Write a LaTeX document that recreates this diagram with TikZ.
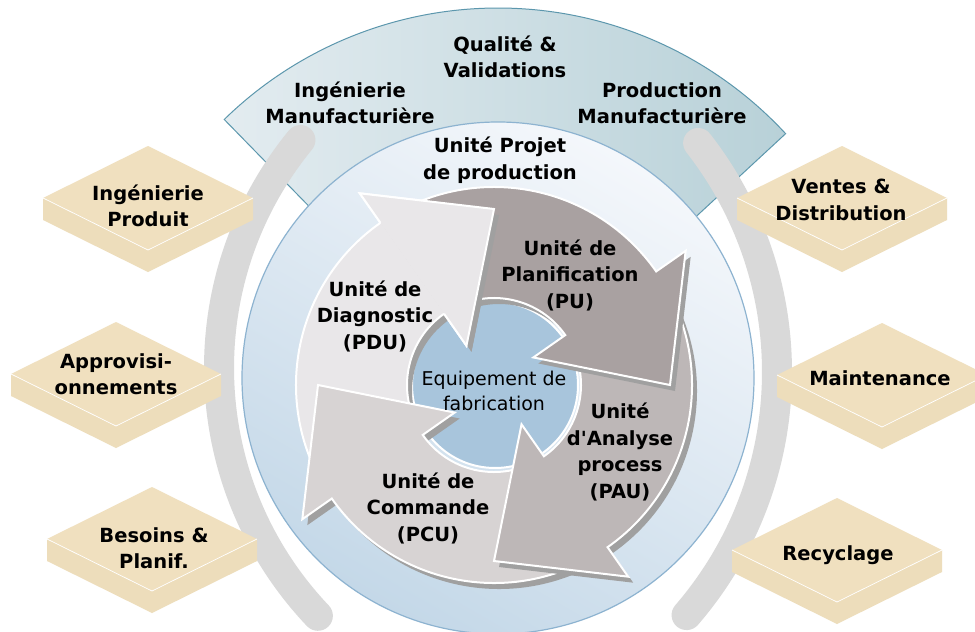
\documentclass[tikz,border=0pt]{standalone}
\usepackage{fontspec}
\setmainfont{DejaVu Sans}[Ligatures=TeXOff]
\usetikzlibrary{calc}
\definecolor{fanL}{HTML}{E3ECF0}
\definecolor{fanR}{HTML}{B8D1D8}
\definecolor{fanEdge}{HTML}{5C97AD}
\definecolor{ringgray}{HTML}{D9D9D9}
\definecolor{bigTop}{HTML}{F4F7FB}
\definecolor{bigBot}{HTML}{C4D8E8}
\definecolor{bigEdge}{HTML}{8DB3D0}
\definecolor{beige}{HTML}{F0E0BF}
\definecolor{beigeSide}{HTML}{EDDDBB}
\definecolor{coreblue}{HTML}{A8C5DC}
\definecolor{shadowgray}{HTML}{A0A0A0}
\definecolor{cPDU}{HTML}{E9E7E9}
\definecolor{cPU}{HTML}{A9A1A1}
\definecolor{cPAU}{HTML}{BDB7B7}
\definecolor{cPCU}{HTML}{D7D3D3}

\newcommand\arrowshape[1]{%
  \pgfmathsetmacro\arrT{#1-84}%
  \pgfmathsetmacro\arrP{#1+35}%
}
\newcommand\cycarrow[2]{%
  \arrowshape{#1}%
  \fill[shadowgray, shift={(5,6)}] (\arrT:87) -- (\arrT:198)
    arc[start angle=\arrT, end angle=#1, radius=198] -- (#1:234) -- (\arrP:176)
    -- (#1:48) -- (#1:87) arc[start angle=#1, end angle=\arrT, radius=87] -- cycle;
  \path[fill=#2, draw=white, line width=2] (\arrT:87) -- (\arrT:198)
    arc[start angle=\arrT, end angle=#1, radius=198] -- (#1:234) -- (\arrP:176)
    -- (#1:48) -- (#1:87) arc[start angle=#1, end angle=\arrT, radius=87] -- cycle;
}
\newcommand\isobox[2]{%
  \begin{scope}[shift={(#1,#2)}]
    \fill[beigeSide] (-105,0) -- (0,52) -- (105,0) -- (105,22) -- (0,74) -- (-105,22) -- cycle;
    \fill[beige] (-105,0) -- (0,-52) -- (105,0) -- (0,52) -- cycle;
    \draw[white, line width=0.7] (-105,0) -- (0,52) -- (105,0);
  \end{scope}%
}

\begin{document}
\begin{tikzpicture}[x=1pt,y=-1pt,
  lbl/.style={font=\fontsize{19.5}{26.5}\selectfont\bfseries, align=center, inner sep=0pt, text=black},
  corelbl/.style={font=\fontsize{19}{25}\selectfont, align=center, inner sep=0pt, text=black}]
\useasboundingbox (0,0) rectangle (975,632);
\fill[white] (0,0) rectangle (975,632);

% top fan
\begin{scope}[shift={(498,400)}]
  \path[left color=fanL, right color=fanR, draw=fanEdge, line width=1]
    (225.7:250) -- (225.7:392) arc[start angle=225.7, end angle=317.2, radius=392]
    -- (317.2:250) arc[start angle=317.2, end angle=225.7, radius=250] -- cycle;
\end{scope}

% gray side arcs
\draw[ringgray, line width=30, line cap=round] (579,368) ++(219.3:360) arc[start angle=219.3, end angle=136.5, radius=360];
\draw[ringgray, line width=30, line cap=round] (405,372) ++(-38:372) arc[start angle=-38, end angle=40.8, radius=372];

% big circle
\path[draw=bigEdge, line width=1.2, top color=bigTop, bottom color=bigBot, shading angle=-30] (498,378) circle[radius=256];

% core circle
\draw[white, line width=2, fill=coreblue] (495,385) circle[radius=83];

% cycle arrows
\begin{scope}[shift={(494,385)}]
  \cycarrow{235}{cPDU}
  \cycarrow{145}{cPCU}
  \cycarrow{55}{cPAU}
  \cycarrow{325}{cPU}
  \fill[shadowgray, shift={(5,6)}] (235:234) -- (270:176) -- (235:48) -- cycle;
  \fill[cPDU] (235:234) -- (270:176) -- (235:48) -- cycle;
  \draw[white, line width=2] (235:198) -- (235:234) -- (270:176) -- (235:48) -- (235:87);
\end{scope}

% side boxes
\isobox{148}{198}
\isobox{116}{374}
\isobox{152}{539}
\isobox{842}{198}
\isobox{882}{375}
\isobox{837}{550}

% labels
\node[lbl] (qv) at (505,57) {Qualité \&\\Validations};
\node[lbl] (im) at (350,103) {Ingénierie\\Manufacturière};
\node[lbl] (pm) at (662,103) {Production\\Manufacturière};
\node[lbl] (upp) at (500,160) {Unité Projet\\de production};
\node[lbl] (pdu) at (375,316) {Unité de\\Diagnostic\\(PDU)};
\node[lbl] (pu) at (570,275) {Unité de\\Planification\\(PU)};
\node[lbl] (pau) at (620,452) {Unité\\d'Analyse\\process\\(PAU)};
\node[lbl] (pcu) at (428,508) {Unité de\\Commande\\(PCU)};
\node[corelbl] (eq) at (494,391) {Equipement de\\fabrication};

\node[lbl] (ip) at (148,206) {Ingénierie\\Produit};
\node[lbl] (ap) at (116,374) {Approvisi-\\onnements};
\node[lbl] (bp) at (154,548) {Besoins \&\\Planif.};
\node[lbl] (vd) at (841,200) {Ventes \&\\Distribution};
\node[lbl] (mt) at (880,378) {Maintenance};
\node[lbl] (rc) at (838,555) {Recyclage};
\end{tikzpicture}
\end{document}
